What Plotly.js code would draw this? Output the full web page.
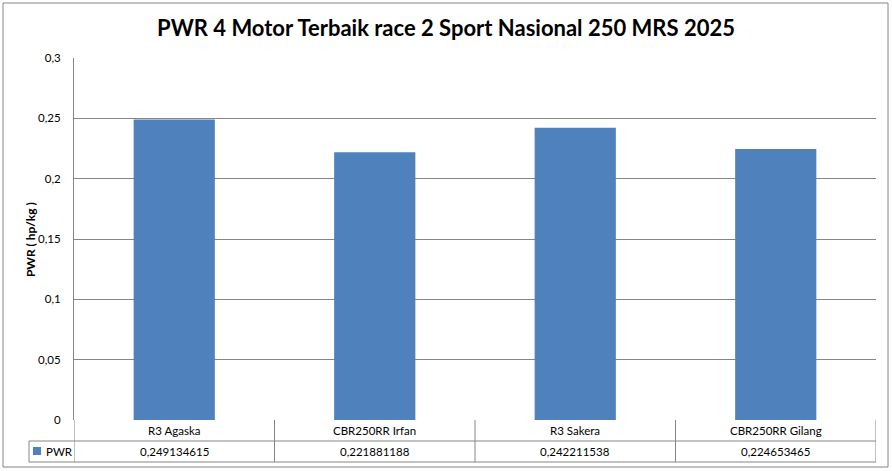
<!DOCTYPE html>
<html>
<head>
<meta charset="utf-8">
<script src="https://cdn.plot.ly/plotly-3.0.1.min.js"></script>
<style>
  html, body { margin: 0; padding: 0; background: #fff; }
  #chart { width: 892px; height: 471px; }
</style>
</head>
<body>
<div id="chart"></div>
<script>
const categories = ['R3 Agaska', 'CBR250RR Irfan', 'R3 Sakera', 'CBR250RR Gilang'];
const pwrValues = [0.249134615, 0.221881188, 0.242211538, 0.224653465];
const seriesName = 'PWR';
const yTicks = [0, 0.05, 0.1, 0.15, 0.2, 0.25, 0.3];

const barColor = '#4F81BD';
const lineColor = '#868686';
const font = 'Lato, "Open Sans", sans-serif';

// plot area in pixels: 74..876 x 58..420
const plotH = 362, plotW = 802;
const py = px => -px / plotH;      // pixels below axis -> paper y
const row1 = py(21), row2 = py(42);

const annotations = [];
categories.forEach((c, i) => {
  annotations.push({
    x: c, xref: 'x', y: py(10.5), yref: 'paper', text: c, showarrow: false,
    yanchor: 'middle', font: { family: font, size: 11.5, color: '#000' }
  });
  annotations.push({
    x: c, xref: 'x', y: py(31.5), yref: 'paper',
    text: String(pwrValues[i]).replace('.', ','), showarrow: false,
    yanchor: 'middle', font: { family: font, size: 11.5, color: '#000' }
  });
});
annotations.push({
  x: (44 - 74) / plotW, xref: 'paper', y: py(31.5), yref: 'paper', text: seriesName,
  showarrow: false, xanchor: 'left', yanchor: 'middle',
  font: { family: font, size: 11.5, color: '#000' }
});
annotations.push({
  x: (30 - 74) / plotW, xref: 'paper', y: 0.497, yref: 'paper', text: '<b>PWR ( hp/kg )</b>',
  showarrow: false, textangle: -90, xanchor: 'center', yanchor: 'middle',
  font: { family: font, size: 12, color: '#000' }
});

const line = { color: lineColor, width: 1 };
const shapes = [
  // outer chart border
  { type: 'rect', xref: 'paper', yref: 'paper', x0: (3 - 74) / plotW, x1: (888 - 74) / plotW,
    y0: py(47), y1: (420 - 3) / plotH, line: line },
  // table horizontal lines
  { type: 'line', xref: 'paper', yref: 'paper', x0: (29 - 74) / plotW, x1: 1, y0: row1, y1: row1, line: line },
  { type: 'line', xref: 'paper', yref: 'paper', x0: (29 - 74) / plotW, x1: 1, y0: row2, y1: row2, line: line },
  { type: 'line', xref: 'paper', yref: 'paper', x0: (29 - 74) / plotW, x1: (29 - 74) / plotW, y0: row1, y1: row2, line: line },
  // legend key
  { type: 'rect', xref: 'paper', yref: 'paper', x0: (33 - 74) / plotW, x1: (41 - 74) / plotW,
    y0: py(27), y1: py(35), fillcolor: barColor, line: { width: 0 } }
];
[-0.5, 0.5, 1.5, 2.5, 3.5].forEach(x => {
  shapes.push({ type: 'line', xref: 'x', yref: 'paper', x0: x, x1: x, y0: 0, y1: row2, line: line });
});

Plotly.newPlot('chart', [{
  type: 'bar',
  x: categories,
  y: pwrValues,
  name: seriesName,
  marker: { color: barColor },
  hoverinfo: 'x+y'
}], {
  width: 892,
  height: 471,
  margin: { l: 74, r: 16, t: 58, b: 51 },
  paper_bgcolor: '#fff',
  plot_bgcolor: '#fff',
  separators: ',.',
  bargap: 0.595,
  showlegend: false,
  title: {
    text: '<b>PWR 4 Motor Terbaik race 2 Sport Nasional 250 MRS 2025</b>',
    x: 0.5, xref: 'container', y: 0.94, yref: 'container', yanchor: 'middle',
    font: { family: font, size: 22, color: '#000' }
  },
  xaxis: {
    type: 'category',
    range: [-0.5, 3.5],
    showticklabels: false,
    ticks: '',
    showgrid: false,
    zeroline: false,
    showline: false,
    fixedrange: true
  },
  yaxis: {
    range: [0, 0.3],
    tickvals: yTicks,
    ticks: '',
    ticklabelstandoff: 10,
    showgrid: true,
    gridcolor: lineColor,
    gridwidth: 1,
    zeroline: false,
    showline: true,
    linecolor: lineColor,
    linewidth: 1,
    tickfont: { family: font, size: 11.5, color: '#000' },
    fixedrange: true
  },
  annotations: annotations,
  shapes: shapes,
  font: { family: font }
}, { displayModeBar: false, staticPlot: true });
</script>
</body>
</html>
